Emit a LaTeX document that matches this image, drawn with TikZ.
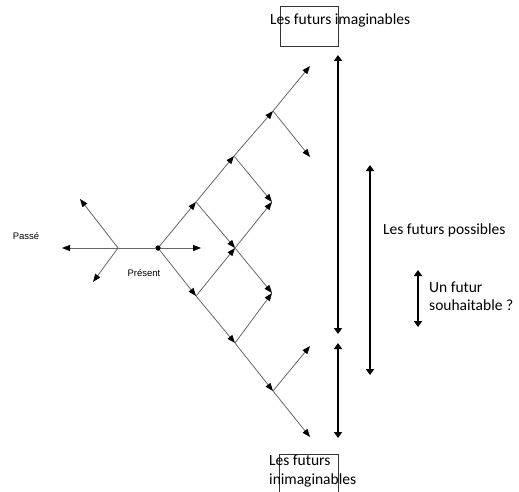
\documentclass[tikz,border=0pt]{standalone}
\usepackage{fontspec}
\setmainfont{Carlito}
\newfontfamily\arialfont{Liberation Sans}
\usetikzlibrary{arrows.meta}
\tikzset{
  branch/.style={draw=black!60, line width=0.8pt, -{Triangle[length=8pt,width=6pt,color=black]}},
  plain/.style={draw=black!60, line width=0.8pt},
  bigarrow/.style={draw=black, line width=2.2pt, {Triangle[length=6pt,width=8pt]}-{Triangle[length=6pt,width=8pt]}},
  biglabel/.style={font=\fontsize{15.5}{18.5}\selectfont, inner sep=0pt, align=left},
  smalllabel/.style={font=\arialfont\fontsize{9.5}{11}\selectfont, inner sep=0pt},
  frame/.style={draw=black!80, line width=0.6pt}
}
\begin{document}
\begin{tikzpicture}[x=1pt,y=-1pt]
\useasboundingbox (0,0) rectangle (519,492);
% junctions
\coordinate (J) at (118,248);
\node[circle, fill=black, inner sep=0pt, minimum size=5pt] (P) at (158,248) {};
\coordinate (A) at (196,202);
\coordinate (B) at (234,156);
\coordinate (C) at (273,111);
\coordinate (D) at (235,248);
\coordinate (E) at (272,202);
\coordinate (F) at (196,296);
\coordinate (G) at (272,293);
\coordinate (H) at (235,343);
\coordinate (I) at (273,391);
% tips
\coordinate (t1) at (62,248);
\coordinate (t2) at (80,199);
\coordinate (t3) at (93,282);
\coordinate (t4) at (201,248);
\coordinate (t5) at (310,66);
\coordinate (t6) at (310,157);
\coordinate (t7) at (310,346);
\coordinate (t8) at (310,437);
% past
\draw[plain] (J) -- (P);
\draw[branch] (J) -- (t1);
\draw[branch] (J) -- (t2);
\draw[branch] (J) -- (t3);
% present
\draw[branch] (P.center) -- (t4);
\draw[branch] (P.center) -- (A);
\draw[branch] (P.center) -- (F);
% upper lattice
\draw[branch] (A) -- (B);
\draw[branch] (B) -- (C);
\draw[branch] (C) -- (t5);
\draw[branch] (C) -- (t6);
\draw[branch] (B) -- (E);
\draw[branch] (A) -- (D);
\draw[branch] (D) -- (E);
% lower lattice
\draw[branch] (F) -- (D);
\draw[branch] (D) -- (G);
\draw[branch] (F) -- (H);
\draw[branch] (H) -- (G);
\draw[branch] (H) -- (I);
\draw[branch] (I) -- (t7);
\draw[branch] (I) -- (t8);
\fill[black] (P) circle (2.5pt);
% labels left
\node[smalllabel] (passe) at (26,236) {Passé};
\node[smalllabel] (present) at (144,273) {Présent};
% vertical arrows
\coordinate (v1a) at (338,55);
\coordinate (v1b) at (338,334);
\coordinate (v2a) at (338,343);
\coordinate (v2b) at (338,438);
\coordinate (v3a) at (370,165);
\coordinate (v3b) at (370,375);
\coordinate (v4a) at (418,270);
\coordinate (v4b) at (418,327);
\draw[bigarrow] (v1a) -- (v1b);
\draw[bigarrow] (v2a) -- (v2b);
\draw[bigarrow] (v3a) -- (v3b);
\draw[bigarrow] (v4a) -- (v4b);
% frames
\draw[frame] (280,6) rectangle (338,46);
\draw[frame] (279,454) -- (279,493) (279,454) -- (338,454) -- (338,493);
% texts
\node[biglabel, anchor=west] (top) at (270,20) {Les futurs imaginables};
\node[biglabel, anchor=west] (bot) at (269,471) {Les futurs\\inimaginables};
\node[biglabel, anchor=west] (poss) at (383,230) {Les futurs possibles};
\node[biglabel, anchor=west] (souh) at (429,296) {Un futur\\souhaitable ?};
\end{tikzpicture}
\end{document}
